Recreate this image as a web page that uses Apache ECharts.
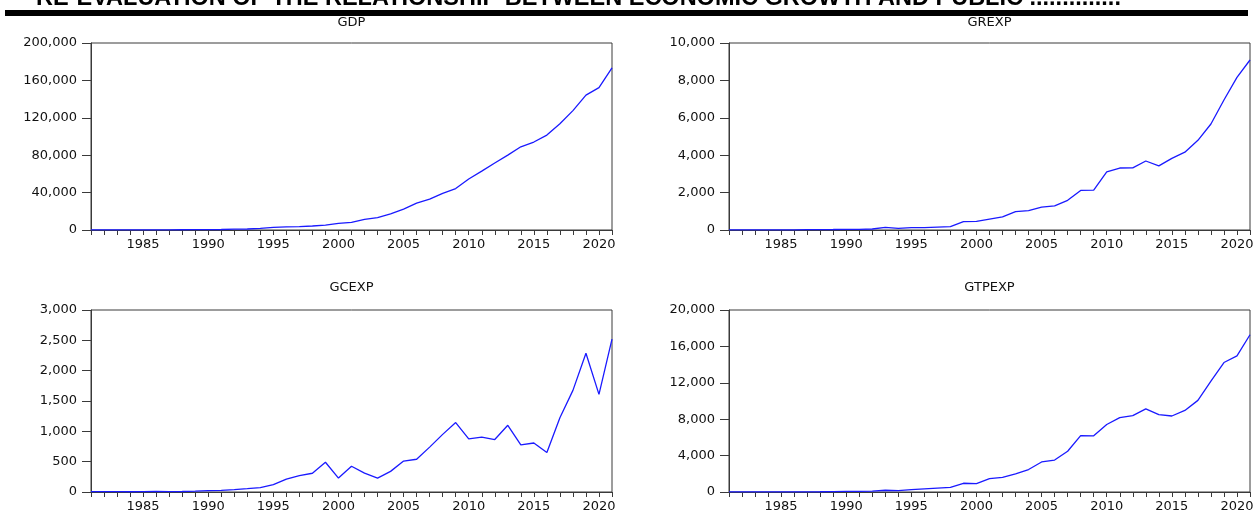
<!DOCTYPE html>
<html><head><meta charset="utf-8">
<script src="https://cdn.jsdelivr.net/npm/echarts@6/dist/echarts.min.js"></script>
<style>html,body{margin:0;padding:0;background:#fff}#c{width:1258px;height:513px}</style>
</head><body><div id="c"></div>
<script>
const years = ['1981','1982','1983','1984','1985','1986','1987','1988','1989','1990',
  '1991','1992','1993','1994','1995','1996','1997','1998','1999','2000',
  '2001','2002','2003','2004','2005','2006','2007','2008','2009','2010',
  '2011','2012','2013','2014','2015','2016','2017','2018','2019','2020','2021'];

const gdp = [94,101,110,116,135,135,193,263,382,473,
  546,875,1090,1800,2800,3300,3600,4300,5300,7000,
  8100,11300,13300,17300,22300,28700,33000,39200,44300,54600,
  63000,71700,80100,89000,94100,101500,113700,127700,144200,152300,173500];

const grexp = [4.8,5.5,4.8,5.8,7.6,7.7,15.6,19.4,26,36,
  38,53,137,90,128,125,159,178,450,462,
  579,697,984,1033,1224,1290,1589,2117,2128,3109,
  3315,3325,3689,3427,3832,4160,4795,5668,6952,8164,9091];

const gcexp = [6.6,6.4,4.9,4.1,5.5,8.5,6.4,8.3,15,24,
  28,40,54,71,121,213,270,309,490,230,
  425,310,230,340,510,540,740,950,1145,875,
  905,865,1100,778,808,650,1225,1675,2288,1610,2520];

const gtpexp = [11,12,10,10,13,16,22,28,41,60,
  67,93,191,161,250,340,430,500,960,930,
  1470,1610,2000,2470,3300,3510,4480,6200,6170,7420,
  8170,8390,9140,8500,8350,8960,10070,12190,14230,14950,17280];

const titles = ['GDP','GREXP','GCEXP','GTPEXP'];
const seriesData = [gdp, grexp, gcexp, gtpexp];
const yMax = [200000, 10000, 3000, 20000];
const yStep = [40000, 2000, 500, 4000];

const headerText = 'RE-EVALUATION OF THE RELATIONSHIP BETWEEN ECONOMIC GROWTH AND PUBLIC ..............';

const layout = [
  {left: 91, top: 43, width: 521, height: 187, titleTop: 16},
  {left: 729, top: 43, width: 521, height: 187, titleTop: 16},
  {left: 91, top: 310, width: 521, height: 186, titleTop: 281},
  {left: 729, top: 310, width: 521, height: 186, titleTop: 281}
];

const FONT = '"DejaVu Sans", "Liberation Sans", sans-serif';
const axisColor = '#3a3a3a';

const chart = echarts.init(document.getElementById('c'), null, {renderer: 'canvas'});

const option = {
  backgroundColor: '#ffffff',
  animation: false,
  title: layout.map((g, i) => ({
    text: titles[i],
    left: g.left + g.width / 2,
    top: g.titleTop,
    textAlign: 'center',
    padding: 0,
    textStyle: {fontFamily: FONT, fontSize: 13, fontWeight: 'normal', color: '#111'}
  })),
  grid: layout.map(g => ({
    left: g.left, top: g.top, width: g.width, height: g.height,
    show: true, borderColor: axisColor, borderWidth: 1, backgroundColor: 'transparent',
    containLabel: false
  })),
  xAxis: layout.map((g, i) => ({
    type: 'category',
    gridIndex: i,
    data: years,
    boundaryGap: false,
    axisLine: {show: true, onZero: false, lineStyle: {color: axisColor, width: 1}},
    axisTick: {show: true, interval: 0, inside: false, length: 5, lineStyle: {color: axisColor}},
    axisLabel: {
      interval: (idx, val) => Number(val) % 5 === 0,
      margin: 8,
      fontFamily: FONT, fontSize: 13, color: '#111'
    },
    splitLine: {show: false}
  })),
  yAxis: layout.map((g, i) => ({
    type: 'value',
    gridIndex: i,
    min: 0,
    max: yMax[i],
    interval: yStep[i],
    axisLine: {show: true, lineStyle: {color: axisColor, width: 1}},
    axisTick: {show: true, inside: false, length: 9, lineStyle: {color: axisColor}},
    axisLabel: {
      margin: 14,
      fontFamily: FONT, fontSize: 13, color: '#111',
      formatter: v => v.toLocaleString('en-US')
    },
    splitLine: {show: false}
  })),
  series: seriesData.map((d, i) => ({
    type: 'line',
    name: titles[i],
    xAxisIndex: i,
    yAxisIndex: i,
    data: d,
    symbol: 'none',
    lineStyle: {color: '#1a1aff', width: 1.3},
    clip: true
  })),
  graphic: [
    {
      type: 'text', left: 36, top: -13, silent: true,
      style: {text: headerText, font: 'bold 23.5px "Liberation Sans", Arial, sans-serif', fill: '#000'}
    },
    {
      type: 'rect', silent: true,
      shape: {x: 5, y: 10, width: 1243, height: 6},
      style: {fill: '#000'}
    }
  ]
};
chart.setOption(option);
</script>
</body></html>
